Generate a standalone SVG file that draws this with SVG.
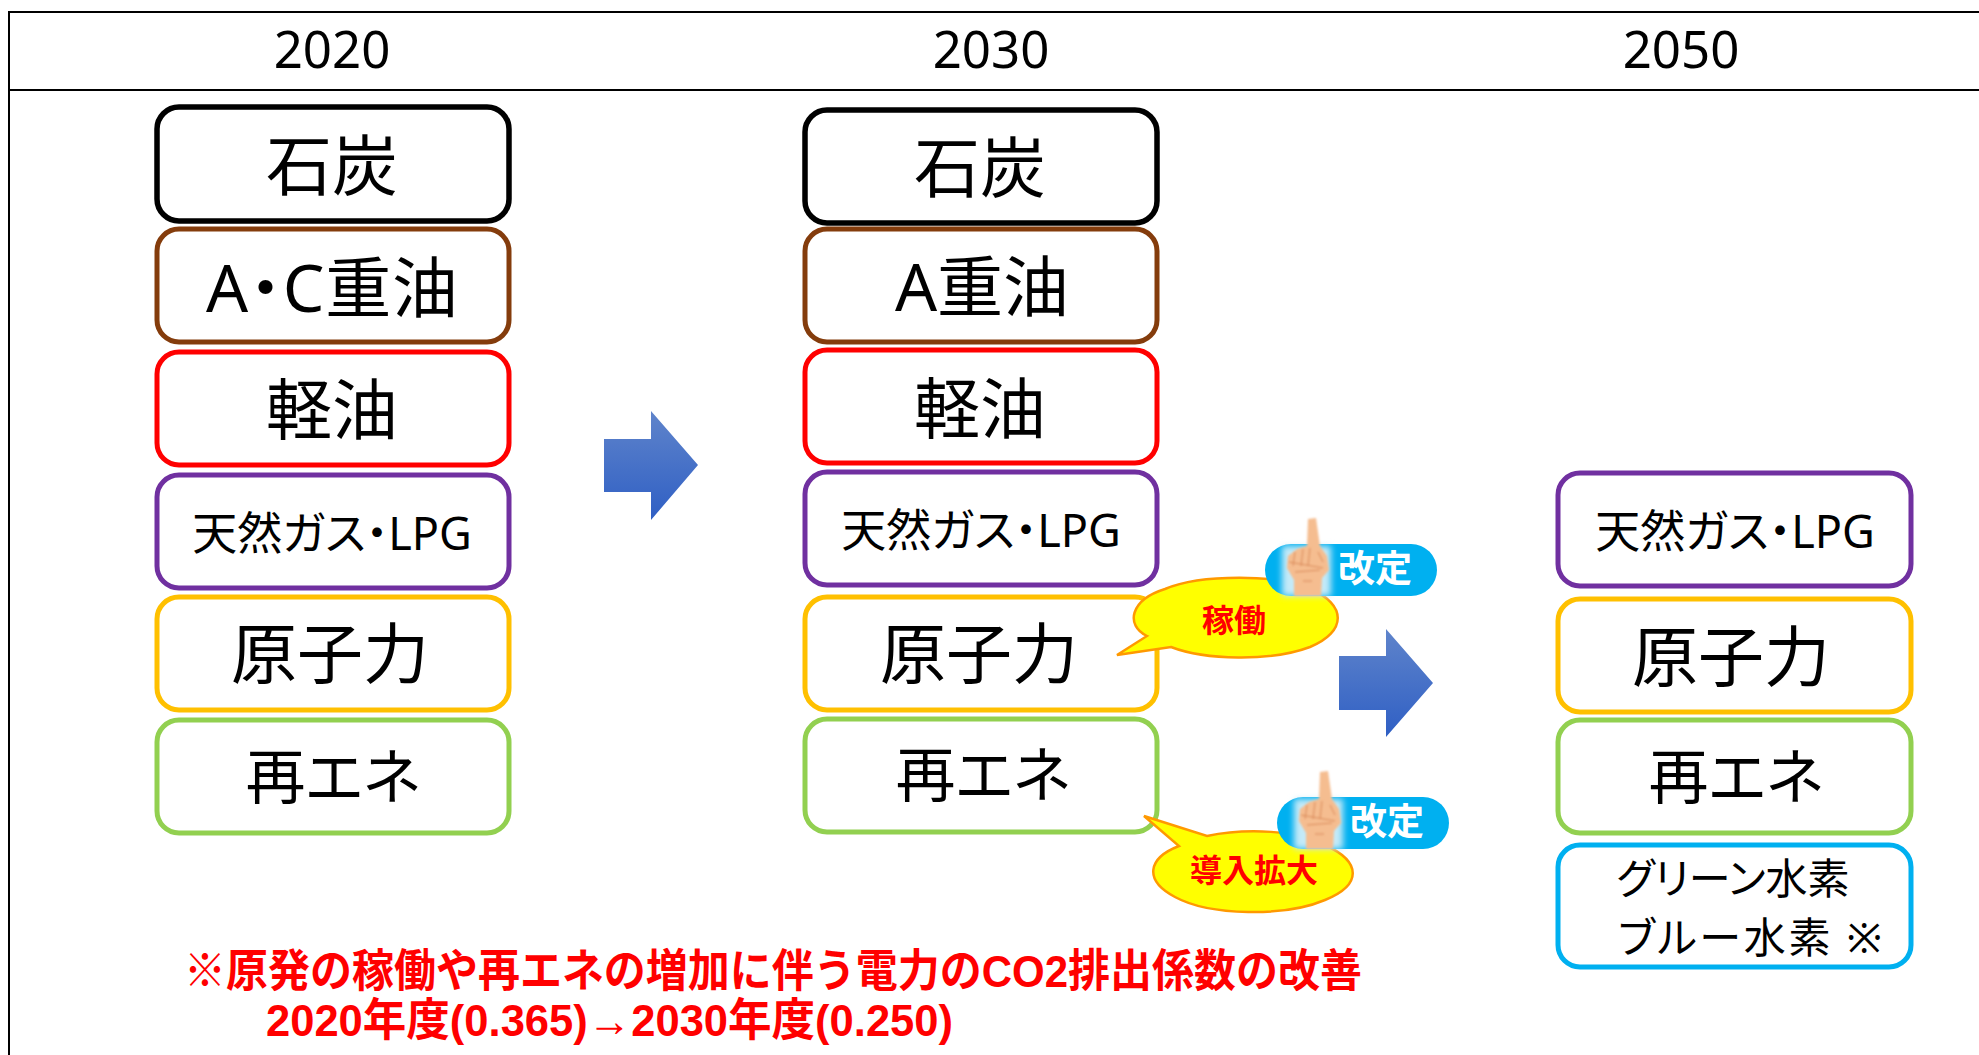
<svg xmlns="http://www.w3.org/2000/svg" width="1979" height="1055" viewBox="0 0 1979 1055">
<style>
text{font-family:"Noto Sans","Noto Sans CJK JP",sans-serif;text-anchor:middle;fill:#000;font-feature-settings:"palt"}
.box{fill:#fff;stroke-width:5}
.k{stroke:#000;stroke-width:5.5}.br{stroke:#843c0c}.r{stroke:#f00}.p{stroke:#7030a0}.y{stroke:#ffc000}.g{stroke:#92d050}.b{stroke:#00b0f0}
.hd{font-size:51px}.big{font-size:66px}.re{font-size:60px}.mid{font-size:45px}.sm{font-size:42px}
.call{fill:#ff0;stroke:#f90;stroke-width:2.5}
.ct{font-size:32px;font-weight:700;fill:#f00}
.kt{font-size:37px;font-weight:700;fill:#fff}
.note{font-family:"Liberation Sans","Noto Sans CJK JP",sans-serif;font-size:45px;font-weight:700;fill:#f00;text-anchor:start;font-feature-settings:normal}
.arrow{fill:url(#ag)}
</style>
<defs>
<linearGradient id="ag" x1="0" y1="0" x2="0" y2="1"><stop offset="0" stop-color="#5f84cb"/><stop offset="1" stop-color="#2f5fc4"/></linearGradient>
<filter id="bl" x="-30%" y="-30%" width="160%" height="160%"><feGaussianBlur stdDeviation="3"/></filter>
<filter id="bs" x="-30%" y="-30%" width="160%" height="160%"><feGaussianBlur stdDeviation="0.8"/></filter>
<g id="pill">
<rect x="1265" y="544" width="172" height="52" rx="26" fill="#00b0f0"/>
<rect x="1282" y="546" width="49" height="50" fill="#c4eaf8" filter="url(#bl)"/>
<path d="M1308 519L1316 518L1320 546L1327 556L1329 570L1322 578L1321 596L1294 596L1294 580L1287 568L1288 556L1297 549L1307 546Z" fill="#f5bd90" filter="url(#bs)"/>
<path d="M1295 552L1293 566M1303 549L1301 566M1310 548L1308 566M1318 552L1323 562M1289 562L1323 568M1295 572L1320 570M1303 581L1312 581" fill="none" stroke="#d98a5a" stroke-width="1" filter="url(#bs)"/>
<text class="kt" x="1375" y="582">改定</text>
</g>
</defs>
<g id="table" fill="none" stroke="#000" stroke-width="2">
<path d="M1979 12H9V1055M9 90H1979"/>
</g>
<g id="headers">
<text class="hd" x="332" y="68">2020</text>
<text class="hd" x="991" y="68">2030</text>
<text class="hd" x="1681" y="68">2050</text>
</g>
<g id="col2020">
<g id="a1"><rect class="box k" x="157" y="107" width="352" height="114" rx="22"/><text class="big" x="332" y="190">石炭</text></g>
<g id="a2"><rect class="box br" x="157" y="229" width="352" height="113" rx="22"/><text class="big" x="332" y="312" textLength="252">A・C重油</text></g>
<g id="a3"><rect class="box r" x="157" y="352" width="352" height="113" rx="22"/><text class="big" x="332" y="434">軽油</text></g>
<g id="a4"><rect class="box p" x="157" y="475" width="352" height="113" rx="22"/><text class="mid" x="332" y="550">天然ガス・LPG</text></g>
<g id="a5"><rect class="box y" x="157" y="597" width="352" height="113" rx="22"/><text class="big" x="330" y="678">原子力</text></g>
<g id="a6"><rect class="box g" x="157" y="720" width="352" height="113" rx="22"/><text class="re" x="333" y="799">再エネ</text></g>
</g>
<g id="col2030">
<g id="b1"><rect class="box k" x="805" y="110" width="352" height="113" rx="22"/><text class="big" x="980" y="192">石炭</text></g>
<g id="b2"><rect class="box br" x="805" y="229" width="352" height="113" rx="22"/><text class="big" x="982" y="311">A重油</text></g>
<g id="b3"><rect class="box r" x="805" y="350" width="352" height="113" rx="22"/><text class="big" x="980" y="433">軽油</text></g>
<g id="b4"><rect class="box p" x="805" y="472" width="352" height="113" rx="22"/><text class="mid" x="981" y="547">天然ガス・LPG</text></g>
<g id="b5"><rect class="box y" x="805" y="597" width="352" height="113" rx="22"/><text class="big" x="979" y="678">原子力</text></g>
<g id="b6"><rect class="box g" x="805" y="719" width="352" height="113" rx="22"/><text class="re" x="983" y="797">再エネ</text></g>
</g>
<g id="col2050">
<g id="c4"><rect class="box p" x="1558" y="473" width="353" height="113" rx="22"/><text class="mid" x="1735" y="548">天然ガス・LPG</text></g>
<g id="c5"><rect class="box y" x="1558" y="599" width="353" height="113" rx="22"/><text class="big" x="1731" y="681">原子力</text></g>
<g id="c6"><rect class="box g" x="1558" y="720" width="353" height="113" rx="22"/><text class="re" x="1736" y="799">再エネ</text></g>
<g id="c7"><rect class="box b" x="1558" y="845" width="353" height="122" rx="22"/><text class="sm" x="1733" y="894">グリーン水素</text><text class="sm" x="1750" y="953" textLength="264">ブルー水素 ※</text></g>
</g>
<g id="connectors">
<path class="arrow" d="M604 439H651V411L698 465L651 520V492H604Z"/>
<path class="arrow" d="M1339 656H1386V629L1433 683L1386 737V710H1339Z"/>
</g>
<g id="callout1">
<path class="call" d="M1117 655L1147 636C1125 625 1130 600 1165 589C1200 574 1280 574 1310 589C1347 604 1347 632 1310 647C1270 662 1205 660 1171 647Z"/>
<text class="ct" x="1234" y="632">稼働</text>
</g>
<g id="kaitei1"><use href="#pill"/></g>
<g id="callout2">
<path class="call" d="M1144 816L1207 836C1245 828 1300 830 1325 845C1362 862 1362 885 1325 900C1285 917 1210 916 1175 897C1143 880 1148 858 1179 846Z"/>
<text class="ct" x="1254" y="882">導入拡大</text>
</g>
<g id="kaitei2"><use href="#pill" x="12" y="253"/></g>
<g id="note">
<text class="note" x="184" y="987" textLength="1178" lengthAdjust="spacingAndGlyphs">※原発の稼働や再エネの増加に伴う電力のCO2排出係数の改善</text>
<text class="note" x="266" y="1036" textLength="687" lengthAdjust="spacingAndGlyphs">2020年度(0.365)→2030年度(0.250)</text>
</g>
</svg>
